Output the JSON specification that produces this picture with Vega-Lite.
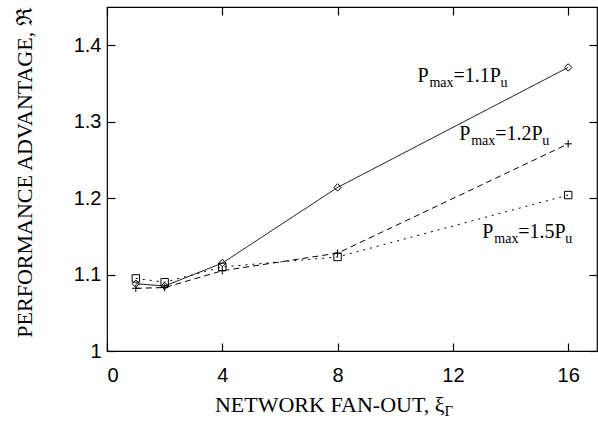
{
  "$schema": "https://vega.github.io/schema/vega-lite/v6.json",
  "width": 490,
  "height": 344,
  "autosize": {"type": "none"},
  "padding": {"left": 107, "top": 7, "right": 1, "bottom": 71},
  "background": "white",
  "config": {
    "view": {"stroke": "black", "strokeWidth": 1.2},
    "axis": {
      "domain": false,
      "grid": false,
      "tickColor": "black",
      "tickSize": -8,
      "tickWidth": 1.2,
      "labelFont": "Liberation Sans",
      "labelFontSize": 20,
      "labelColor": "black",
      "titleFont": "Liberation Serif",
      "titleFontSize": 22,
      "titleFontWeight": "normal",
      "titleColor": "black"
    }
  },
  "datasets": {
    "series": [
      {"series": "1.1", "x": 1, "y": 1.088},
      {"series": "1.1", "x": 2, "y": 1.085},
      {"series": "1.1", "x": 4, "y": 1.115},
      {"series": "1.1", "x": 8, "y": 1.214},
      {"series": "1.1", "x": 16, "y": 1.371},
      {"series": "1.2", "x": 1, "y": 1.082},
      {"series": "1.2", "x": 2, "y": 1.083},
      {"series": "1.2", "x": 4, "y": 1.105},
      {"series": "1.2", "x": 8, "y": 1.128},
      {"series": "1.2", "x": 16, "y": 1.271},
      {"series": "1.5", "x": 1, "y": 1.095},
      {"series": "1.5", "x": 2, "y": 1.09},
      {"series": "1.5", "x": 4, "y": 1.11},
      {"series": "1.5", "x": 8, "y": 1.123},
      {"series": "1.5", "x": 16, "y": 1.204}
    ],
    "labels": [
      {"x": 10.77, "y": 1.3516, "mid": "=1.1P"},
      {"x": 12.22, "y": 1.2758, "mid": "=1.2P"},
      {"x": 13.02, "y": 1.1477, "mid": "=1.5P"}
    ],
    "xtitle": [
      {"x": 11.71, "y": 1, "main": "NETWORK FAN-OUT, ξ", "sub": "Γ"}
    ]
  },
  "layer": [
    {
      "data": {"name": "series"},
      "mark": {"type": "line", "color": "black", "strokeWidth": 1},
      "encoding": {
        "x": {
          "field": "x", "type": "quantitative",
          "scale": {"domain": [0, 17], "nice": false},
          "axis": {"values": [0, 4, 8, 12, 16], "title": null, "labelPadding": 22, "orient": "bottom"}
        },
        "y": {
          "field": "y", "type": "quantitative",
          "scale": {"domain": [1, 1.45], "nice": false, "zero": false},
          "axis": {
            "values": [1, 1.1, 1.2, 1.3, 1.4],
            "labelExpr": "datum.value == 1 ? '1' : format(datum.value, '.1f')",
            "labelPadding": 14,
            "title": "PERFORMANCE ADVANTAGE, ℜ",
            "titleX": -83,
            "titleY": 165,
            "titleAngle": -90,
            "titleAlign": "center",
            "titleBaseline": "middle",
            "orient": "left"
          }
        },
        "strokeDash": {
          "field": "series", "type": "nominal",
          "scale": {"domain": ["1.1", "1.2", "1.5"], "range": [[1, 0], [6, 4], [2, 5]]},
          "legend": null
        },
        "detail": {"field": "series"}
      }
    },
    {
      "data": {"name": "series"},
      "mark": {"type": "point", "filled": false, "stroke": "black", "strokeWidth": 1, "size": 55, "opacity": 1},
      "encoding": {
        "x": {"field": "x", "type": "quantitative", "axis": {"orient": "top", "values": [0, 4, 8, 12, 16], "labels": false, "title": null}},
        "y": {"field": "y", "type": "quantitative", "axis": {"orient": "right", "values": [1, 1.1, 1.2, 1.3, 1.4], "labels": false, "title": null}},
        "shape": {
          "field": "series", "type": "nominal",
          "scale": {"domain": ["1.1", "1.2", "1.5"], "range": ["diamond", "M-1,0H1M0,-1V1", "square"]},
          "legend": null
        }
      }
    },
    {
      "data": {"name": "labels"},
      "mark": {"type": "text", "text": "P", "align": "left", "baseline": "alphabetic", "font": "Liberation Serif", "fontSize": 20, "color": "black"},
      "encoding": {
        "x": {"field": "x", "type": "quantitative", "axis": null},
        "y": {"field": "y", "type": "quantitative", "axis": null}
      }
    },
    {
      "data": {"name": "labels"},
      "mark": {"type": "text", "text": "max", "align": "left", "baseline": "alphabetic", "font": "Liberation Serif", "fontSize": 14, "color": "black", "dx": 12, "dy": 5},
      "encoding": {
        "x": {"field": "x", "type": "quantitative", "axis": null},
        "y": {"field": "y", "type": "quantitative", "axis": null}
      }
    },
    {
      "data": {"name": "labels"},
      "mark": {"type": "text", "align": "left", "baseline": "alphabetic", "font": "Liberation Serif", "fontSize": 20, "color": "black", "dx": 36},
      "encoding": {
        "x": {"field": "x", "type": "quantitative", "axis": null},
        "y": {"field": "y", "type": "quantitative", "axis": null},
        "text": {"field": "mid"}
      }
    },
    {
      "data": {"name": "labels"},
      "mark": {"type": "text", "text": "u", "align": "left", "baseline": "alphabetic", "font": "Liberation Serif", "fontSize": 14, "color": "black", "dx": 83, "dy": 5},
      "encoding": {
        "x": {"field": "x", "type": "quantitative", "axis": null},
        "y": {"field": "y", "type": "quantitative", "axis": null}
      }
    },
    {
      "data": {"name": "xtitle"},
      "mark": {"type": "text", "align": "right", "baseline": "alphabetic", "font": "Liberation Serif", "fontSize": 22, "color": "black", "dy": 61},
      "encoding": {
        "x": {"field": "x", "type": "quantitative", "axis": null},
        "y": {"field": "y", "type": "quantitative", "axis": null},
        "text": {"field": "main"}
      }
    },
    {
      "data": {"name": "xtitle"},
      "mark": {"type": "text", "align": "left", "baseline": "alphabetic", "font": "Liberation Serif", "fontSize": 15, "color": "black", "dy": 65},
      "encoding": {
        "x": {"field": "x", "type": "quantitative", "axis": null},
        "y": {"field": "y", "type": "quantitative", "axis": null},
        "text": {"field": "sub"}
      }
    }
  ],
  "resolve": {"axis": {"x": "independent", "y": "independent"}}
}
